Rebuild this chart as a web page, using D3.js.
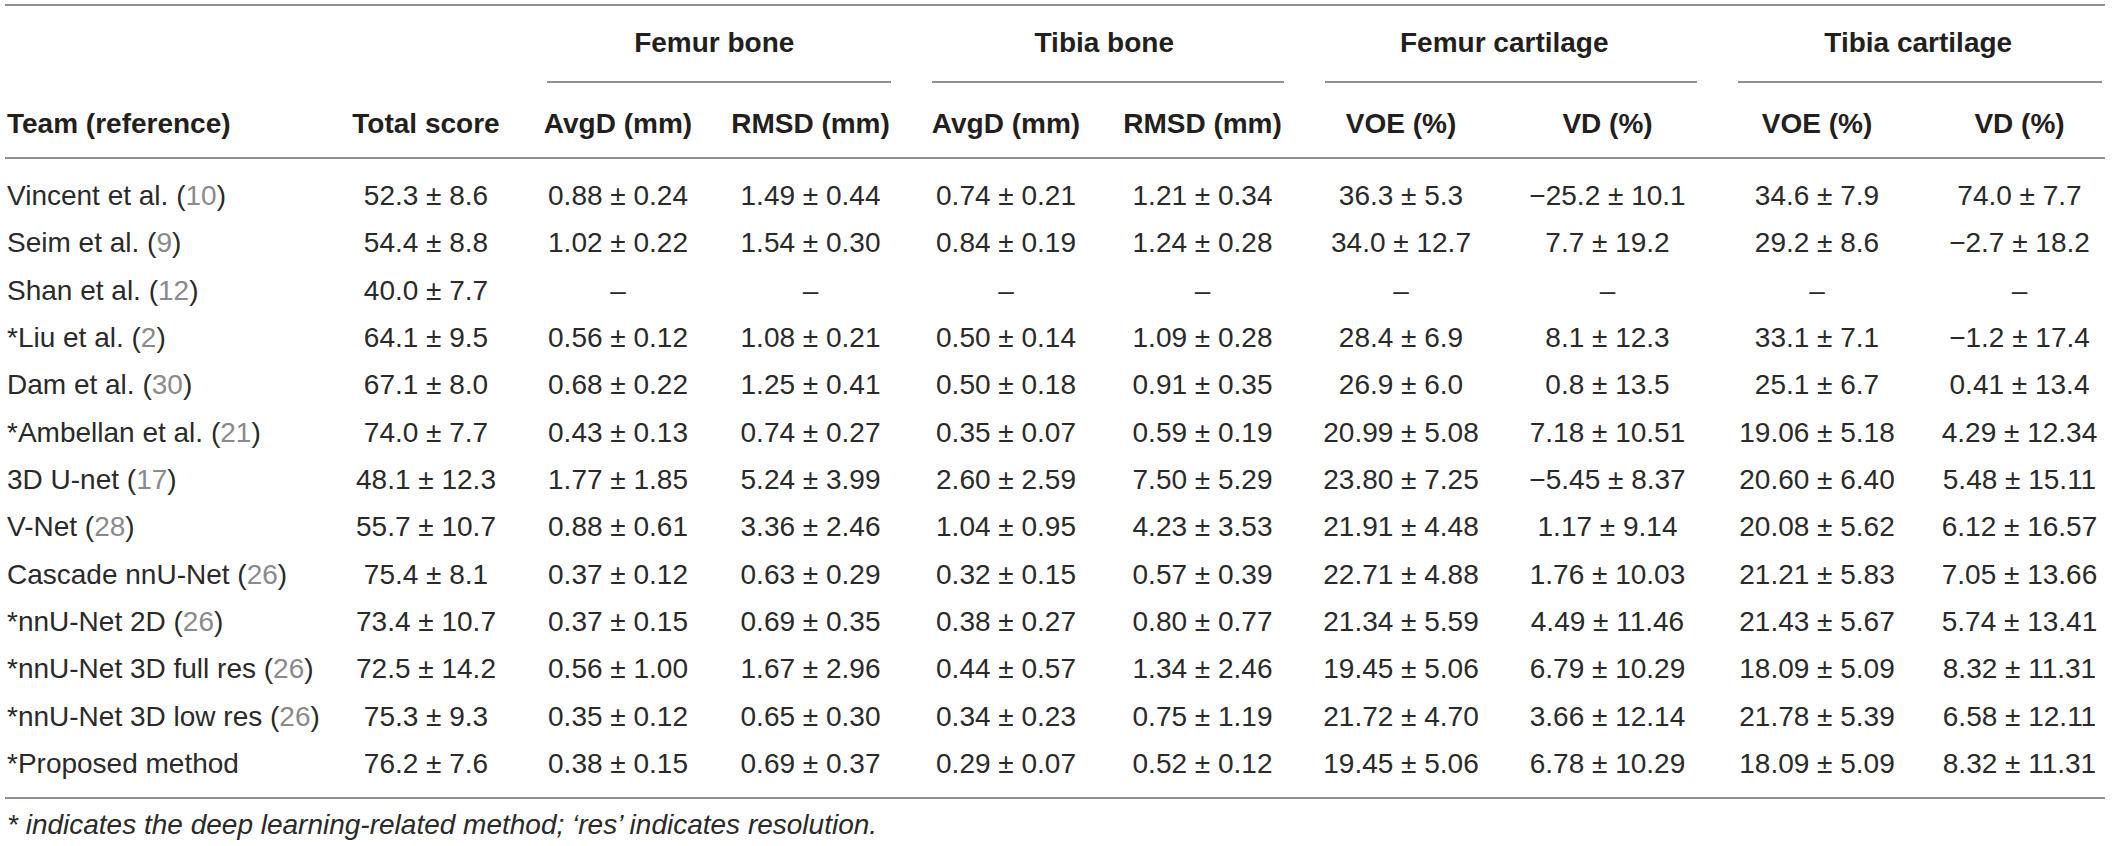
<!DOCTYPE html>
<html>
<head>
<meta charset="utf-8">
<script src="https://cdn.jsdelivr.net/npm/d3@7/dist/d3.min.js"></script>
<style>
  html, body { margin: 0; padding: 0; background: #fff; }
  svg { display: block; }
  text { font-family: "Liberation Sans", Arial, Helvetica, sans-serif; }
</style>
</head>
<body>
<svg id="chart" width="2118" height="846"></svg>
<script>
// ---------------- DATA ----------------
const teams = ["Vincent et al.", "Seim et al.", "Shan et al.", "*Liu et al.", "Dam et al.",
  "*Ambellan et al.", "3D U-net", "V-Net", "Cascade nnU-Net", "*nnU-Net 2D",
  "*nnU-Net 3D full res", "*nnU-Net 3D low res", "*Proposed method"];
const refs = ["10", "9", "12", "2", "30", "21", "17", "28", "26", "26", "26", "26", null];

const groups = ["Femur bone", "Tibia bone", "Femur cartilage", "Tibia cartilage"];
const columnLabels = ["Team (reference)", "Total score", "AvgD (mm)", "RMSD (mm)", "AvgD (mm)", "RMSD (mm)",
  "VOE (%)", "VD (%)", "VOE (%)", "VD (%)"];

const totalScore = ["52.3 ± 8.6", "54.4 ± 8.8", "40.0 ± 7.7", "64.1 ± 9.5", "67.1 ± 8.0", "74.0 ± 7.7",
  "48.1 ± 12.3", "55.7 ± 10.7", "75.4 ± 8.1", "73.4 ± 10.7", "72.5 ± 14.2", "75.3 ± 9.3", "76.2 ± 7.6"];
const femurBoneAvgD = ["0.88 ± 0.24", "1.02 ± 0.22", "–", "0.56 ± 0.12", "0.68 ± 0.22", "0.43 ± 0.13",
  "1.77 ± 1.85", "0.88 ± 0.61", "0.37 ± 0.12", "0.37 ± 0.15", "0.56 ± 1.00", "0.35 ± 0.12", "0.38 ± 0.15"];
const femurBoneRMSD = ["1.49 ± 0.44", "1.54 ± 0.30", "–", "1.08 ± 0.21", "1.25 ± 0.41", "0.74 ± 0.27",
  "5.24 ± 3.99", "3.36 ± 2.46", "0.63 ± 0.29", "0.69 ± 0.35", "1.67 ± 2.96", "0.65 ± 0.30", "0.69 ± 0.37"];
const tibiaBoneAvgD = ["0.74 ± 0.21", "0.84 ± 0.19", "–", "0.50 ± 0.14", "0.50 ± 0.18", "0.35 ± 0.07",
  "2.60 ± 2.59", "1.04 ± 0.95", "0.32 ± 0.15", "0.38 ± 0.27", "0.44 ± 0.57", "0.34 ± 0.23", "0.29 ± 0.07"];
const tibiaBoneRMSD = ["1.21 ± 0.34", "1.24 ± 0.28", "–", "1.09 ± 0.28", "0.91 ± 0.35", "0.59 ± 0.19",
  "7.50 ± 5.29", "4.23 ± 3.53", "0.57 ± 0.39", "0.80 ± 0.77", "1.34 ± 2.46", "0.75 ± 1.19", "0.52 ± 0.12"];
const femurCartVOE = ["36.3 ± 5.3", "34.0 ± 12.7", "–", "28.4 ± 6.9", "26.9 ± 6.0", "20.99 ± 5.08",
  "23.80 ± 7.25", "21.91 ± 4.48", "22.71 ± 4.88", "21.34 ± 5.59", "19.45 ± 5.06", "21.72 ± 4.70", "19.45 ± 5.06"];
const femurCartVD = ["−25.2 ± 10.1", "7.7 ± 19.2", "–", "8.1 ± 12.3", "0.8 ± 13.5", "7.18 ± 10.51",
  "−5.45 ± 8.37", "1.17 ± 9.14", "1.76 ± 10.03", "4.49 ± 11.46", "6.79 ± 10.29", "3.66 ± 12.14", "6.78 ± 10.29"];
const tibiaCartVOE = ["34.6 ± 7.9", "29.2 ± 8.6", "–", "33.1 ± 7.1", "25.1 ± 6.7", "19.06 ± 5.18",
  "20.60 ± 6.40", "20.08 ± 5.62", "21.21 ± 5.83", "21.43 ± 5.67", "18.09 ± 5.09", "21.78 ± 5.39", "18.09 ± 5.09"];
const tibiaCartVD = ["74.0 ± 7.7", "−2.7 ± 18.2", "–", "−1.2 ± 17.4", "0.41 ± 13.4", "4.29 ± 12.34",
  "5.48 ± 15.11", "6.12 ± 16.57", "7.05 ± 13.66", "5.74 ± 13.41", "8.32 ± 11.31", "6.58 ± 12.11", "8.32 ± 11.31"];

const footnote = "* indicates the deep learning-related method; ‘res’ indicates resolution.";

// ---------------- LAYOUT ----------------
const W = 2118, H = 846;
const colEdges = [5, 330, 522, 714, 907, 1105, 1300, 1502, 1713, 1921, 2118];
const groupCols = [[2, 3], [4, 5], [6, 7], [8, 9]];
const valueCols = [totalScore, femurBoneAvgD, femurBoneRMSD, tibiaBoneAvgD, tibiaBoneRMSD,
  femurCartVOE, femurCartVD, tibiaCartVOE, tibiaCartVD];

const colIdx = d3.range(columnLabels.length);
const xCenter = d3.scaleOrdinal().domain(colIdx)
  .range(colIdx.map(i => (colEdges[i] + colEdges[i + 1]) / 2));
const y = d3.scalePoint().domain(d3.range(teams.length)).range([205, 773]);

const FS = 28;
const lineColor = "#6b6b6b";
const svg = d3.select("#chart");

// rules
const rules = [5, 158, 798];
svg.selectAll("line.rule").data(rules).join("line")
  .attr("class", "rule")
  .attr("x1", 5).attr("x2", 2105)
  .attr("y1", d => d).attr("y2", d => d)
  .attr("stroke", lineColor).attr("stroke-width", 1.6);

// group headers
svg.selectAll("text.group").data(groups).join("text")
  .attr("class", "group")
  .attr("x", (d, i) => (xCenter(groupCols[i][0]) + xCenter(groupCols[i][1])) / 2)
  .attr("y", 52)
  .attr("text-anchor", "middle")
  .attr("font-size", FS).attr("font-weight", "bold").attr("fill", "#231f20")
  .text(d => d);

svg.selectAll("line.gline").data(groups).join("line")
  .attr("class", "gline")
  .attr("x1", (d, i) => colEdges[groupCols[i][0]] + 25)
  .attr("x2", (d, i) => Math.min(colEdges[groupCols[i][1] + 1] - 16, 2105))
  .attr("y1", 82).attr("y2", 82)
  .attr("stroke", lineColor).attr("stroke-width", 1.6);

// column headers
svg.selectAll("text.colhead").data(columnLabels).join("text")
  .attr("class", "colhead")
  .attr("x", (d, i) => i === 0 ? 7 : xCenter(i))
  .attr("y", 133)
  .attr("text-anchor", (d, i) => i === 0 ? "start" : "middle")
  .attr("font-size", FS).attr("font-weight", "bold").attr("fill", "#231f20")
  .text(d => d);

// team names
const teamText = svg.selectAll("text.team").data(teams).join("text")
  .attr("class", "team")
  .attr("x", 7)
  .attr("y", (d, i) => y(i))
  .attr("font-size", FS).attr("fill", "#2a2a2a");
teamText.each(function (d, i) {
  const t = d3.select(this);
  t.append("tspan").text(d);
  if (refs[i] !== null) {
    t.append("tspan").text(" (");
    t.append("tspan").attr("fill", "#8a8a8a").text(refs[i]);
    t.append("tspan").text(")");
  }
});

// values
valueCols.forEach((col, ci) => {
  svg.selectAll("text.val" + ci).data(col).join("text")
    .attr("class", "val" + ci)
    .attr("x", xCenter(ci + 1))
    .attr("y", (d, i) => y(i))
    .attr("text-anchor", "middle")
    .attr("font-size", FS).attr("fill", "#2a2a2a")
    .text(d => d);
});

// footnote
svg.append("text")
  .attr("x", 7).attr("y", 834)
  .attr("font-size", FS).attr("font-style", "italic").attr("fill", "#2a2a2a")
  .text(footnote);
</script>
</body>
</html>
